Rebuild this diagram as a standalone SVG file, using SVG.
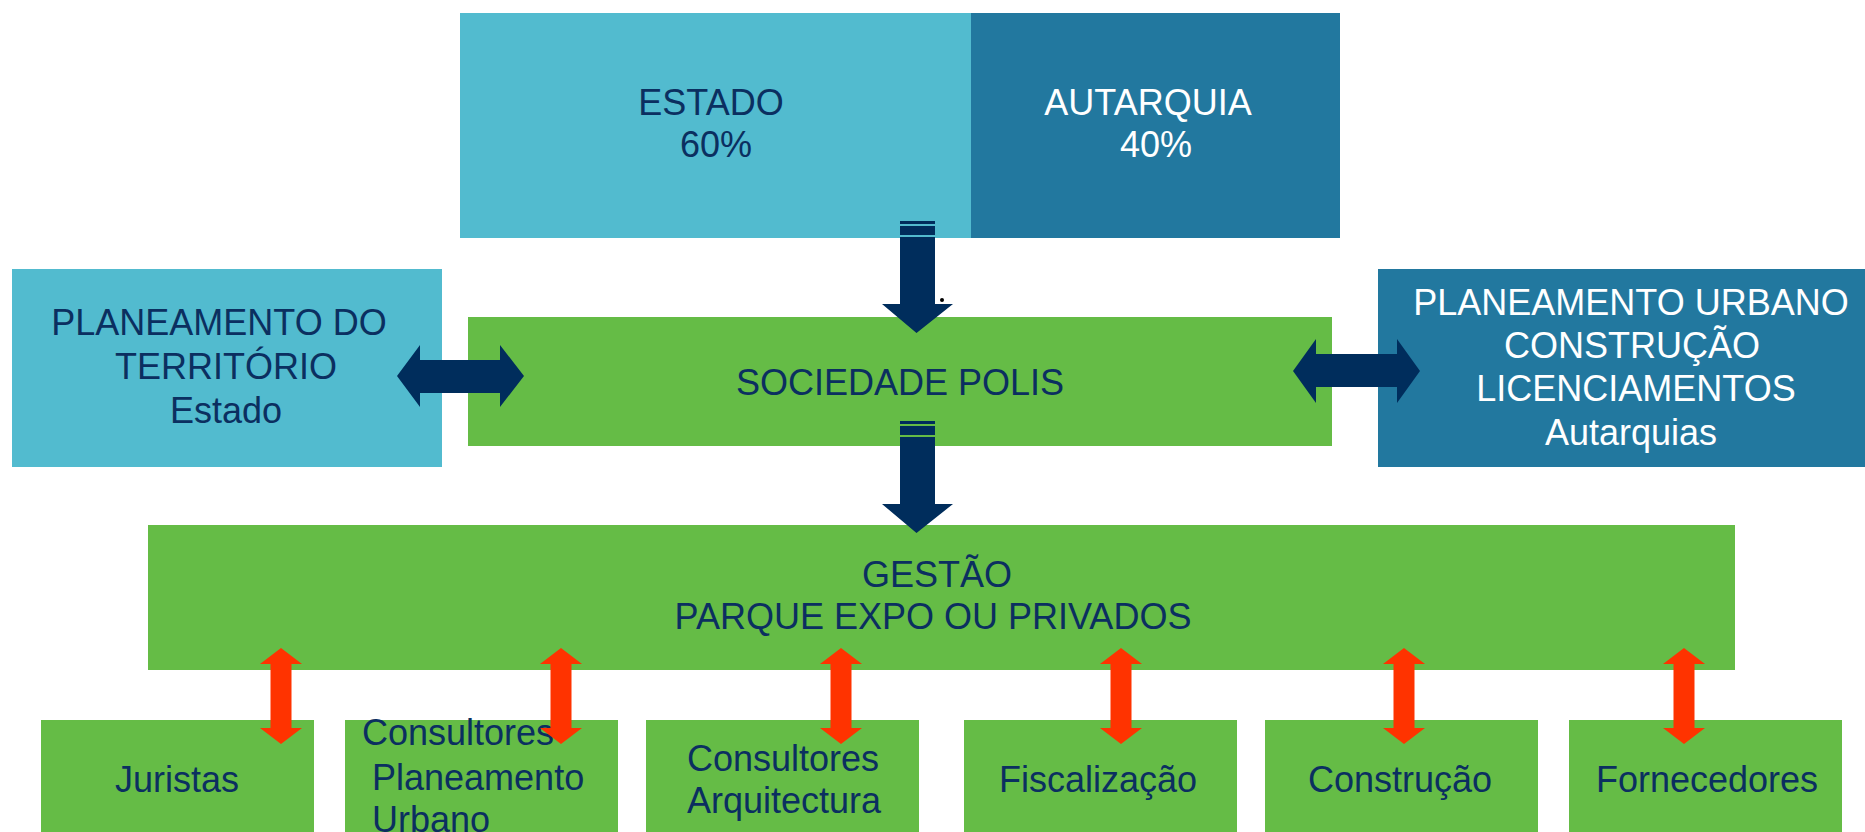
<svg xmlns="http://www.w3.org/2000/svg" width="1865" height="832" viewBox="0 0 1865 832">
<style>
text{font-family:"Liberation Sans",Arial,sans-serif;font-size:36px;fill:#0B2F60;text-anchor:middle}
.w{fill:#FFFFFF}
.st{text-anchor:start}
.lb{fill:#52BBCF}
.db{fill:#22789F}
.gr{fill:#65BC46}
.nv{fill:#002D5C}
.rd{fill:#FF3300}
</style>
<rect width="1865" height="832" fill="#FFFFFF"/>
<g id="estado">
<rect class="lb" x="460" y="13" width="511" height="225"/>
<text x="711" y="115">ESTADO</text>
<text x="716" y="157">60%</text>
</g>
<g id="autarquia">
<rect class="db" x="971" y="13" width="369" height="225"/>
<text class="w" x="1148" y="115">AUTARQUIA</text>
<text class="w" x="1156" y="157">40%</text>
</g>
<g id="planeamento-territorio">
<rect class="lb" x="12" y="269" width="430" height="198"/>
<text x="219" y="335">PLANEAMENTO DO</text>
<text x="226" y="379">TERRITÓRIO</text>
<text x="226" y="423">Estado</text>
</g>
<g id="sociedade-polis">
<rect class="gr" x="468" y="317" width="864" height="129"/>
<text x="900" y="395">SOCIEDADE POLIS</text>
</g>
<g id="planeamento-urbano">
<rect class="db" x="1378" y="269" width="487" height="198"/>
<text class="w" x="1631" y="315">PLANEAMENTO URBANO</text>
<text class="w" x="1632" y="358">CONSTRUÇÃO</text>
<text class="w" x="1636" y="401">LICENCIAMENTOS</text>
<text class="w" x="1631" y="445">Autarquias</text>
</g>
<g id="gestao">
<rect class="gr" x="148" y="525" width="1587" height="145"/>
<text x="937" y="587">GESTÃO</text>
<text x="933" y="629">PARQUE EXPO OU PRIVADOS</text>
</g>
<g id="juristas">
<rect class="gr" x="41" y="720" width="273" height="120"/>
<text x="177" y="792">Juristas</text>
</g>
<g id="consultores-planeamento">
<rect class="gr" x="345" y="720" width="273" height="120"/>
<text class="st" x="362" y="745">Consultores</text>
<text class="st" x="372" y="790">Planeamento</text>
<text class="st" x="372" y="832">Urbano</text>
</g>
<g id="consultores-arquitectura">
<rect class="gr" x="646" y="720" width="273" height="120"/>
<text x="783" y="771">Consultores</text>
<text x="784" y="813">Arquitectura</text>
</g>
<g id="fiscalizacao">
<rect class="gr" x="964" y="720" width="273" height="120"/>
<text x="1098" y="792">Fiscalização</text>
</g>
<g id="construcao">
<rect class="gr" x="1265" y="720" width="273" height="120"/>
<text x="1400" y="792">Construção</text>
</g>
<g id="fornecedores">
<rect class="gr" x="1569" y="720" width="273" height="120"/>
<text x="1707" y="792">Fornecedores</text>
</g>
<g id="connectors">
<rect class="nv" x="900" y="221" width="35" height="3"/>
<rect class="nv" x="900" y="226" width="35" height="9"/>
<polygon class="nv" points="900,237 935,237 935,304 953,304 916.5,333 882,304 900,304"/>
<circle cx="942" cy="300" r="2" fill="#000000"/>
<rect class="nv" x="900" y="421" width="35" height="3"/>
<rect class="nv" x="900" y="426" width="35" height="9"/>
<polygon class="nv" points="900,437 935,437 935,504 953,504 916.5,533 882,504 900,504"/>
<polygon class="nv" points="397,376 420,345 420,360 500,360 500,345 524,376 500,407 500,393 420,393 420,407"/>
<polygon class="nv" points="1293,371 1316,339 1316,354 1397,354 1397,339 1420,371 1397,403 1397,387 1316,387 1316,403"/>
<g id="red-arrows">
<polygon class="rd" points="281,648 302,664 291.5,664 291.5,728 302,728 281,744 260,728 270.5,728 270.5,664 260,664"/>
<polygon class="rd" points="561,648 582,664 571.5,664 571.5,728 582,728 561,744 540,728 550.5,728 550.5,664 540,664"/>
<polygon class="rd" points="841,648 862,664 851.5,664 851.5,728 862,728 841,744 820,728 830.5,728 830.5,664 820,664"/>
<polygon class="rd" points="1121,648 1142,664 1131.5,664 1131.5,728 1142,728 1121,744 1100,728 1110.5,728 1110.5,664 1100,664"/>
<polygon class="rd" points="1404,648 1425,664 1414.5,664 1414.5,728 1425,728 1404,744 1383,728 1393.5,728 1393.5,664 1383,664"/>
<polygon class="rd" points="1684,648 1705,664 1694.5,664 1694.5,728 1705,728 1684,744 1663,728 1673.5,728 1673.5,664 1663,664"/>
</g>
</g>
</svg>
